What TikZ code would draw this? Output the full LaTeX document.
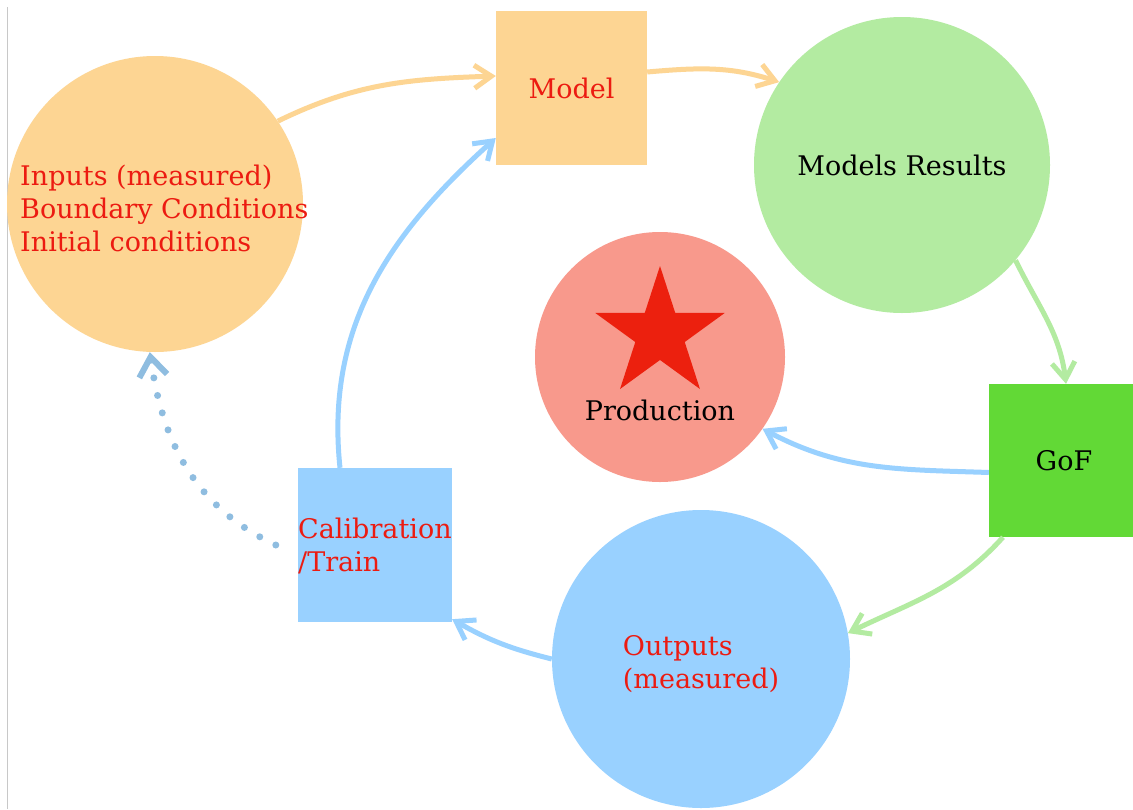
\documentclass[tikz,border=0pt]{standalone}
\usepackage{fontspec}
\setmainfont{DejaVu Serif}
\usetikzlibrary{arrows.meta,shapes.geometric}
\definecolor{orng}{RGB}{253,213,147}
\definecolor{lgreen}{RGB}{179,235,161}
\definecolor{salmon}{RGB}{248,153,140}
\definecolor{starred}{RGB}{236,32,14}
\definecolor{gofgreen}{RGB}{98,217,54}
\definecolor{lblue}{RGB}{153,209,255}
\definecolor{dotblue}{RGB}{143,189,224}
\definecolor{redtxt}{RGB}{236,27,17}
\definecolor{frame}{RGB}{200,200,200}
\begin{document}
\begin{tikzpicture}[x=1pt,y=-1pt,
  circ/.style={circle, inner sep=0pt, minimum size=#1, draw=none},
  box/.style={rectangle, inner sep=0pt, minimum width=#1, minimum height=154pt, draw=none},
  lbl/.style={inner sep=0pt, font=\fontsize{27}{33}\selectfont, align=left},
  conn/.style={line width=5pt, draw=#1, -{Straight Barb[length=17pt,width=23pt]}},
  dotconn/.style={line width=7pt, draw=dotblue, line cap=round, dash pattern=on 0pt off 18pt,
    -{Straight Barb[length=19pt,width=28pt,line width=6pt]}}
]
\useasboundingbox (0,0) rectangle (1133,809);
\fill[white] (0,0) rectangle (1133,809);
\draw[frame, line width=1pt] (7,7) -- (7,809);

% nodes
\node[circ=296pt, fill=orng] (inputs) at (155,204) {};
\node[lbl, text=redtxt, anchor=west] (inputsT) at (20,208)
  {Inputs (measured)\\Boundary Conditions\\Initial conditions};

\node[box=151pt, fill=orng, lbl, text=redtxt, align=center] (model) at (571.5,88) {Model};

\node[circ=296pt, fill=lgreen, lbl, align=center] (results) at (902,165) {Models Results};

\node[circ=250pt, fill=salmon] (prod) at (660,357) {};
\node[star, star points=5, star point ratio=2.618, minimum size=136pt, inner sep=0pt,
  fill=starred, draw=none] (star) at (660,334) {};
\node[lbl] (prodT) at (660,410) {Production};

\node[box=150pt, minimum height=153pt, fill=gofgreen, lbl, align=center] (gof) at (1064,460.5) {GoF};

\node[circ=298pt, fill=lblue] (outputs) at (701,659) {};
\node[lbl, text=redtxt] (outputsT) at (701,664) {Outputs\\(measured)};

\node[box=154pt, fill=lblue] (calib) at (375,545) {};
\node[lbl, text=redtxt, anchor=west] (calibT) at (298,546) {Calibration\\/Train};

% connectors
\draw[conn=orng] (inputs.34) to[out=26,in=182] ([yshift=12pt]model.west);
\draw[conn=orng] ([yshift=16pt]model.east) to[out=5,in=162] (results.146);
\draw[conn=lgreen] (results.-40) to[out=-64,in=97] ([xshift=2pt]gof.north);
\draw[conn=lblue] ([yshift=-12pt]gof.west) to[out=178,in=-28] (prod.-35);
\draw[conn=lgreen] ([xshift=-61pt]gof.south) to[out=-132,in=26] (outputs.10);
\draw[conn=lblue] (outputs.west) to[out=166,in=-30] ([yshift=3pt]calib.south east);
\draw[conn=lblue] ([xshift=-35pt]calib.north) to[out=96,in=-138] ([yshift=-50pt]model.west);
\draw[dotconn] ([xshift=-22pt]calib.west) to[out=155,in=-82] (inputs.-92);
\end{tikzpicture}
\end{document}
